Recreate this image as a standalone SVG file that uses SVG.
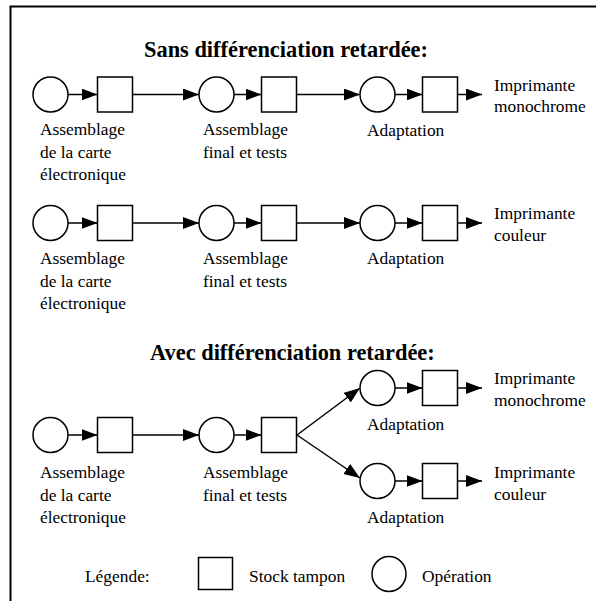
<svg xmlns="http://www.w3.org/2000/svg" width="596" height="601" viewBox="0 0 596 601">
<style>
.op{fill:#fff;stroke:#000;stroke-width:1.5}
.st{fill:#fff;stroke:#000;stroke-width:1.5}
.t{font-family:'Liberation Serif',Tinos,'Times New Roman','DejaVu Serif',serif;font-size:17.4px;fill:#000}
.h{font-family:'Liberation Serif',Tinos,'Times New Roman','DejaVu Serif',serif;font-size:22.4px;font-weight:bold;fill:#000}
.c{stroke:#000;stroke-width:1.5;fill:none;marker-end:url(#ah)}
</style>
<defs>
<marker id="ah" markerUnits="userSpaceOnUse" markerWidth="17" markerHeight="13" refX="16" refY="6" orient="auto">
<path d="M0,0 L16,6 L0,12 z" fill="#000"/>
</marker>
</defs>
<rect width="596" height="601" fill="#fff"/>
<path d="M10.5,601 V6.5 H596" fill="none" stroke="#000" stroke-width="2"/>

<text class="h" x="144" y="57" font-family="Liberation Serif, serif">Sans différenciation retardée:</text>
<text class="h" x="150" y="360" font-family="Liberation Serif, serif">Avec différenciation retardée:</text>

<g id="connectors">
<line class="c" x1="68" y1="94.5" x2="97.5" y2="94.5"/>
<line class="c" x1="132.5" y1="94.5" x2="199" y2="94.5"/>
<line class="c" x1="234" y1="94.5" x2="261.5" y2="94.5"/>
<line class="c" x1="296.5" y1="94.5" x2="360" y2="94.5"/>
<line class="c" x1="395" y1="94.5" x2="422.5" y2="94.5"/>
<line class="c" x1="457.5" y1="94.5" x2="482" y2="94.5"/>

<line class="c" x1="68" y1="223" x2="97.5" y2="223"/>
<line class="c" x1="132.5" y1="223" x2="199" y2="223"/>
<line class="c" x1="234" y1="223" x2="261.5" y2="223"/>
<line class="c" x1="296.5" y1="223" x2="360" y2="223"/>
<line class="c" x1="395" y1="223" x2="422.5" y2="223"/>
<line class="c" x1="457.5" y1="223" x2="482" y2="223"/>

<line class="c" x1="68" y1="435" x2="97.5" y2="435"/>
<line class="c" x1="132.5" y1="435" x2="199" y2="435"/>
<line class="c" x1="234" y1="435" x2="261.5" y2="435"/>
<line class="c" x1="297" y1="435" x2="360" y2="388"/>
<line class="c" x1="297" y1="435" x2="360" y2="478"/>
<line class="c" x1="395" y1="388" x2="422.5" y2="388"/>
<line class="c" x1="457.5" y1="388" x2="482" y2="388"/>
<line class="c" x1="395" y1="481" x2="422.5" y2="481"/>
<line class="c" x1="457.5" y1="481" x2="482" y2="481"/>
</g>

<g id="row1">
<g id="r1-op1"><circle class="op" cx="50.5" cy="94.5" r="17.5"/></g>
<g id="r1-st1"><rect class="st" x="97.5" y="77" width="35" height="35"/></g>
<g id="r1-op2"><circle class="op" cx="216.5" cy="94.5" r="17.5"/></g>
<g id="r1-st2"><rect class="st" x="261.5" y="77" width="35" height="35"/></g>
<g id="r1-op3"><circle class="op" cx="377.5" cy="94.5" r="17.5"/></g>
<g id="r1-st3"><rect class="st" x="422.5" y="77" width="35" height="35"/></g>
<text class="t" x="40" y="135">Assemblage</text>
<text class="t" x="40" y="157.5">de la carte</text>
<text class="t" x="40" y="180">électronique</text>
<text class="t" x="203" y="135">Assemblage</text>
<text class="t" x="203" y="157.5">final et tests</text>
<text class="t" x="367" y="135.5">Adaptation</text>
<text class="t" x="494" y="91">Imprimante</text>
<text class="t" x="494" y="112">monochrome</text>
</g>

<g id="row2">
<g id="r2-op1"><circle class="op" cx="50.5" cy="223" r="17.5"/></g>
<g id="r2-st1"><rect class="st" x="97.5" y="205.5" width="35" height="35"/></g>
<g id="r2-op2"><circle class="op" cx="216.5" cy="223" r="17.5"/></g>
<g id="r2-st2"><rect class="st" x="261.5" y="205.5" width="35" height="35"/></g>
<g id="r2-op3"><circle class="op" cx="377.5" cy="223" r="17.5"/></g>
<g id="r2-st3"><rect class="st" x="422.5" y="205.5" width="35" height="35"/></g>
<text class="t" x="40" y="264">Assemblage</text>
<text class="t" x="40" y="286.5">de la carte</text>
<text class="t" x="40" y="309">électronique</text>
<text class="t" x="203" y="264">Assemblage</text>
<text class="t" x="203" y="286.5">final et tests</text>
<text class="t" x="367" y="264">Adaptation</text>
<text class="t" x="494" y="218.5">Imprimante</text>
<text class="t" x="494" y="240.5">couleur</text>
</g>

<g id="row3">
<g id="r3-op1"><circle class="op" cx="50.5" cy="435" r="17.5"/></g>
<g id="r3-st1"><rect class="st" x="97.5" y="417.5" width="35" height="35"/></g>
<g id="r3-op2"><circle class="op" cx="216.5" cy="435" r="17.5"/></g>
<g id="r3-st2"><rect class="st" x="261.5" y="417.5" width="35" height="35"/></g>
<g id="r3-op3a"><circle class="op" cx="377.5" cy="388" r="17.5"/></g>
<g id="r3-st3a"><rect class="st" x="422.5" y="370.5" width="35" height="35"/></g>
<g id="r3-op3b"><circle class="op" cx="377.5" cy="481" r="17.5"/></g>
<g id="r3-st3b"><rect class="st" x="422.5" y="463.5" width="35" height="35"/></g>
<text class="t" x="40" y="478">Assemblage</text>
<text class="t" x="40" y="500.5">de la carte</text>
<text class="t" x="40" y="523">électronique</text>
<text class="t" x="203" y="478">Assemblage</text>
<text class="t" x="203" y="500.5">final et tests</text>
<text class="t" x="367" y="430">Adaptation</text>
<text class="t" x="367" y="523">Adaptation</text>
<text class="t" x="494" y="384">Imprimante</text>
<text class="t" x="494" y="405.5">monochrome</text>
<text class="t" x="494" y="478">Imprimante</text>
<text class="t" x="494" y="500">couleur</text>
</g>

<g id="legend">
<text class="t" x="85" y="582">Légende:</text>
<g id="legend-stock"><rect class="st" x="198.5" y="557.5" width="34" height="32"/></g>
<text class="t" x="249" y="582">Stock tampon</text>
<g id="legend-op"><ellipse class="op" cx="389" cy="574" rx="17" ry="17.5"/></g>
<text class="t" x="422" y="582">Opération</text>
</g>
</svg>
